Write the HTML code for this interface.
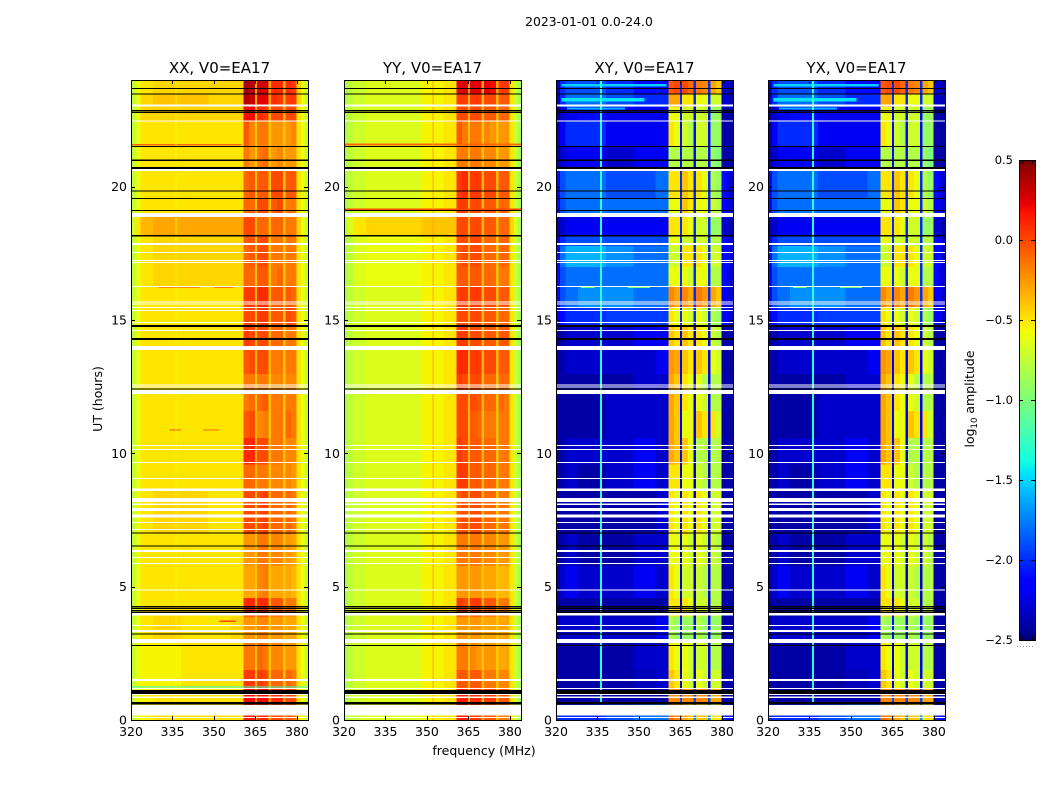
<!DOCTYPE html>
<html lang="en">
<head>
<meta charset="utf-8">
<title>2023-01-01 0.0-24.0</title>
<style>
html,body{margin:0;padding:0;background:#fff;}
svg{display:block;font-family:"DejaVu Sans","Liberation Sans",sans-serif;fill:#000;}
</style>
</head>
<body>
<svg id="figure" xmlns="http://www.w3.org/2000/svg" width="1050" height="800" viewBox="0 0 1050 800">
<rect x="0" y="0" width="1050" height="800" fill="#fff"/>
<text x="589" y="26" font-size="12.4" text-anchor="middle">2023-01-01 0.0-24.0</text>
<text x="102" y="399" font-size="12.5" text-anchor="middle" transform="rotate(-90 102 399)">UT (hours)</text>
<text x="484" y="755" font-size="12.5" text-anchor="middle">frequency (MHz)</text>
<text x="974" y="399" font-size="12.5" text-anchor="middle" transform="rotate(-90 974 399)">log<tspan font-size="8.5" dy="3">10</tspan><tspan dy="-3"> amplitude</tspan></text>
<g id="panels"></g>
<g id="colorbar"></g>
</svg>
<script>
// Data
const panelTitles = ['XX, V0=EA17', 'YY, V0=EA17', 'XY, V0=EA17', 'YX, V0=EA17'];
const freqTicks = [320, 335, 350, 365, 380];
const hourTicks = [0, 5, 10, 15, 20];
const colorTicks = [-2.5, -2.0, -1.5, -1.0, -0.5, 0.0, 0.5];
const colorEdgeTicks = [0, 0.2, 0.4, 0.6, 0.8, 1];
const timeEdges = [0,.6,1.2,1.9,2.9,3.9,4.6,5.8,7,8.6,9.6,10.6,11.6,12.4,13,13.9,14.8,15.5,16.3,17,17.8,18.2,18.9,19.6,20.6,21.5,22.5,23,23.5,24];
const freqEdges = [320,321.5,323.5,328,338,348,356,360.6,362.7,364.8,365.6,367.7,369.7,370.6,372.8,375,375.8,377.8,379.8,381.5,383,384];
// log10 amplitude in tenths; rows run bottom (0 h) to top (24 h)
const xxCells = [
[-7.5,-6,-5.5,-5,-5,-5,-5,1.5,1.5,-2.5,1,1,-3,0,0,-3,-.5,-1,-5,-6,-7.5],
[-7.5,-6,-5.5,-5,-5,-5,-5,2,2,-2.5,2,2,-2.5,1,1,-3,0,0,-5,-6,-7.5],
[-7.5,-6,-5.5,-5.5,-5,-5,-5,.5,.5,-3.5,.5,0,-3.5,-1,-1,-4,-1,-1.5,-5,-6,-7.5],
[-7.5,-6,-5.5,-5.5,-5,-5,-5,-1.5,-1.5,-4,-1,-1.5,-4,-2,-2,-4,-2.5,-2.5,-5,-6,-7.5],
[-7.5,-6,-5,-4.5,-5,-5,-4.5,-2.5,-2.5,-4,-2,-2,-4,-2.5,-2.5,-4,-3,-3,-5,-6,-7.5],
[-7.5,-6,-5,-5,-5,-5,-5,1,1,-3,1,1,-3,-.5,-.5,-3.5,-1.5,-1.5,-5,-6,-7.5],
[-7.5,-6,-5,-5,-5,-5,-5,-3,-3,-4,-2,-1.5,-4,-3,-3,-4,-3,-3.5,-5,-6,-7.5],
[-7.5,-6,-5,-5,-5,-5,-5,-2.5,-2.5,-4,-1.5,-1.5,-4,-2,-2,-4,-2.5,-3,-5,-6,-7.5],
[-7.5,-6,-5,-4.5,-4.5,-5,-5,0,0,-3.5,0,.5,-3.5,-1,-1,-4,-1,-1.5,-5,-6,-7.5],
[-7.5,-6,-5,-5,-5,-5,-5,-1,-1,-3.5,-1.5,-1.5,-4,-2,-2,-4,-2,-2.5,-5,-6,-7.5],
[-7.5,-6,-5,-5,-5,-5,-5,1,1,-3,0,0,-3.5,-1.5,-1.5,-4,-2,-2,-5,-6,-7.5],
[-7.5,-6,-5,-5,-5,-5,-5,-.5,0,-3.5,-2,-1.5,-4,-1.5,-1.5,-4,-1,-1.5,-5,-6,-7.5],
[-7.5,-6,-5,-5,-5,-5,-5,-1.5,-1,-4,-1,-.5,-4,-1.5,-1.5,-4,-1.5,-1.5,-5,-6,-7.5],
[-7.5,-6,-5,-5,-5,-5,-5,-1.5,-1.5,-4,-1.5,-1.5,-4,-2,-2,-4,-2,-2,-5,-6,-7.5],
[-7.5,-6,-5,-5,-5,-5,-5,-.5,0,-3.5,0,0,-3.5,-1.5,-1.5,-4,-1.5,-1.5,-5,-6,-7.5],
[-7.5,-6,-5,-5,-5,-5,-5,.5,0,-3.5,0,0,-3.5,-1,-1,-4,-1.5,-1.5,-5,-6,-7.5],
[-7.5,-6,-5,-5,-5,-5,-5,0,0,-3.5,.5,.5,-3.5,-.5,-.5,-4,0,-.5,-5,-6,-7.5],
[-7.5,-6,-5,-5,-5,-5,-5,.5,.5,-3.5,1,1,-3.5,-.5,-.5,-4,-.5,-1,-5,-6,-7.5],
[-7.5,-6,-5,-4.5,-4.5,-4.5,-4.5,-1,-1,-4,-.5,-.5,-4,-1.5,-1,-4,-1.5,-1.5,-5,-6,-7.5],
[-7.5,-6,-5,-4.5,-4.5,-4.5,-4.5,-1,-.5,-4,0,0,-4,-1.5,-1.5,-4,-1.5,-1.5,-5,-6,-7.5],
[-7.5,-6,-5,-4.5,-4.5,-4.5,-4.5,-.5,-.5,-4,0,0,-4,-1.5,-1.5,-4,-1.5,-1.5,-5,-6,-7.5],
[-7,-5,-3.5,-3,-3,-3,-3,0,0,-3.5,-1,-1,-3.5,-1,-1,-3.5,-1.5,-1.5,-4.5,-6,-7.5],
[-7.5,-6,-5,-5,-5,-5,-5,-1,-1,-4,0,0,-4,-.5,0,-4,-1.5,-1.5,-5,-6,-7.5],
[-7.5,-6,-5,-5,-5,-5,-5,-1,-.5,-4,-.5,-.5,-4,0,0,-4,-.5,-.5,-5,-6,-7.5],
[-7.5,-6,-5,-5,-5,-5,-5,-1.5,-2.5,-4,-1.5,-1,-4,-2.5,-2,-4,-2.5,-2.5,-5,-6,-7.5],
[-7.5,-6,-5,-5,-5,-5,-5,-.5,-2,-4,-1.5,-1.5,-4,-2.5,-2.5,-4,-2.5,-2,-5,-6,-7.5],
[-7.5,-6,-4.5,-4.5,-4.5,-4.5,-4.5,2,2,-3.5,1,.5,-3.5,0,0,-3.5,0,0,-5,-6,-7.5],
[-7.5,-6,-4.5,-4,-4,-4.5,-4.5,3.5,3,-3,2.5,2.5,-3,1,.5,-3.5,.5,.5,-4.5,-6,-7.5],
[-7.5,-6,-5,-4.5,-4.5,-4.5,-4.5,4,3.5,-3,3,3,-3,1,1,-3.5,1,.5,-4.5,-6,-7.5]
];
const yyCells = [
[-8.5,-7.5,-7,-6.5,-6.5,-5.5,-5,1.5,1.5,-3.5,.5,.5,-3.5,-.5,-.5,-3.5,-1.5,-1.5,-5,-7,-8.5],
[-8.5,-7.5,-7,-6.5,-6.5,-5.5,-5,1.5,1.5,-3.5,1,1,-3.5,.5,.5,-3.5,-.5,-.5,-5,-7,-8.5],
[-8.5,-7.5,-7,-6.5,-6.5,-5.5,-5,-.5,-.5,-3.5,-.5,-.5,-3.5,-1.5,-1.5,-4,-2,-2,-5,-7,-8.5],
[-8.5,-7.5,-7,-6.5,-6.5,-5.5,-5,-1.5,-1.5,-4,-2,-2.5,-4,-2.5,-2.5,-4,-3,-3,-5,-7,-8.5],
[-8.5,-7.5,-7,-6.5,-6.5,-5.5,-5,-2.5,-2.5,-4,-2.5,-2.5,-4,-3,-3,-4,-3,-3,-5,-7,-8.5],
[-8.5,-7.5,-7,-6.5,-6.5,-5.5,-5,.5,0,-3.5,.5,.5,-3.5,-.5,-.5,-3.5,-1.5,-1.5,-5,-7,-8.5],
[-8.5,-7.5,-7,-6.5,-6.5,-5.5,-5,-2.5,-2.5,-4,-2.5,-2.5,-4,-3,-3,-4,-3.5,-3.5,-5,-7,-8.5],
[-8.5,-7.5,-7,-6.5,-6.5,-5.5,-5,-1.5,-1.5,-4,-1.5,-1.5,-4,-2,-2,-4,-2.5,-2.5,-5,-7,-8.5],
[-8.5,-7.5,-7,-6.5,-6.5,-5.5,-5,-.5,0,-3.5,0,0,-3.5,-1,-1,-4,-1.5,-1.5,-5,-7,-8.5],
[-8.5,-7.5,-7,-6.5,-6.5,-5.5,-5,.5,.5,-3.5,-.5,-.5,-3.5,-1,-1,-4,-1.5,-1.5,-5,-7,-8.5],
[-8.5,-7.5,-7,-6.5,-6.5,-5.5,-5,.5,0,-3.5,-.5,-.5,-3.5,-1,-1,-4,-1.5,-1.5,-5,-7,-8.5],
[-8.5,-7.5,-7,-6.5,-6.5,-5.5,-5,0,0,-3.5,-.5,-1,-3.5,-1.5,-1.5,-4,-1.5,-1.5,-5,-7,-8.5],
[-8.5,-7.5,-7,-6.5,-6.5,-5.5,-5,0,0,-3.5,0,-.5,-3.5,-1,-1,-4,-1,-1.5,-5,-7,-8.5],
[-8.5,-7.5,-7,-6.5,-6.5,-5.5,-5,.5,0,-3.5,0,0,-3.5,-1,-1,-4,-1,-1,-5,-7,-8.5],
[-8.5,-7.5,-7,-6.5,-6.5,-5.5,-5,1,1,-3.5,.5,.5,-3.5,0,0,-3.5,-.5,-.5,-5,-7,-8.5],
[-8.5,-7.5,-7,-6.5,-6.5,-5.5,-5,.5,.5,-3.5,0,0,-3.5,-.5,-.5,-3.5,-.5,-.5,-5,-7,-8.5],
[-8.5,-7.5,-7,-6.5,-6.5,-5.5,-5,0,0,-3.5,0,0,-3.5,-.5,-.5,-3.5,-1,-1,-5,-7,-8.5],
[-8.5,-7.5,-7,-6.5,-6.5,-5.5,-5,.5,.5,-3.5,.5,.5,-3.5,0,0,-3.5,-.5,-.5,-5,-7,-8.5],
[-8.5,-7.5,-6.5,-6,-6,-5.5,-5,-.5,-.5,-3.5,-.5,-.5,-3.5,-1,-1,-4,-1.5,-1.5,-5,-7,-8.5],
[-8.5,-7.5,-6.5,-6,-6,-5.5,-5,-.5,0,-3.5,0,0,-3.5,-1,-1,-4,-1,-1,-5,-7,-8.5],
[-8.5,-7.5,-6.5,-6,-6,-5.5,-5,0,0,-3.5,0,0,-3.5,-1,-1,-4,-1,-1,-5,-7,-8.5],
[-8,-6.5,-5,-4.5,-4.5,-4,-4,0,0,-3.5,0,0,-3.5,-.5,-.5,-3.5,-1,-1,-4.5,-6.5,-8.5],
[-8.5,-7.5,-7,-6.5,-6.5,-5.5,-5,.5,.5,-3.5,0,0,-3.5,-.5,-.5,-3.5,-1,-1,-5,-7,-8.5],
[-8.5,-7.5,-7,-6.5,-6.5,-5.5,-5,.5,1,-3.5,.5,.5,-3.5,0,0,-3.5,-.5,-.5,-5,-7,-8.5],
[-8.5,-7.5,-7,-6.5,-6.5,-5.5,-5,-1.5,-1.5,-4,-1.5,-1.5,-4,-2,-2,-4,-2.5,-2.5,-5,-7,-8.5],
[-8.5,-7.5,-7,-6.5,-6.5,-5.5,-5,-.5,-1.5,-4,-1.5,-1.5,-4,-2,-2.5,-4,-2.5,-2.5,-5,-7,-8.5],
[-8.5,-7.5,-7,-6.5,-6.5,-5.5,-5,0,0,-3.5,0,0,-3.5,-.5,-.5,-3.5,-1,-1,-5,-7,-8.5],
[-8.5,-7.5,-7,-6.5,-6.5,-5.5,-5,.5,.5,-3.5,.5,.5,-3.5,0,0,-3.5,-.5,-.5,-5,-7,-8.5],
[-8.5,-7.5,-7,-6.5,-6.5,-5.5,-5,2.5,2.5,-3,2.5,2.5,-3,2.5,2,-3,.5,.5,-5,-7,-8.5]
];
const xyCells = [
[-20,-20,-20,-20,-19,-18,-18,-1,-2,-17,-3,-4,-17,-4,-4,-17,-5,-5,-20,-21,-22],
[-24,-24,-24,-24,-24,-24,-24,-2,-2,-19,-2,-2,-19,-2,-2,-19,-3,-3,-24,-24,-24],
[-24,-24,-24,-24,-24,-23.5,-23,-4,-5,-22,-6,-7,-22,-6,-7,-22,-7,-7,-24,-24,-24],
[-24,-24,-24,-24,-24,-23,-23,-5,-6,-23,-6,-7,-22,-7,-7,-22,-8,-8,-24,-24,-24],
[-24,-23,-23,-23,-23,-23,-22,-8,-9,-21,-9,-9,-21,-8,-9,-21,-9,-9,-24,-24,-24],
[-24,-24,-24,-24,-24,-24,-24,-5,-5,-23,-5,-6,-23,-7,-7,-23,-8,-8,-24,-24,-24],
[-24,-23,-22,-23,-23,-22,-23,-5,-6,-23,-7,-7,-23,-7,-8,-23,-8,-8,-24,-24,-24],
[-24,-24,-23,-24,-24,-23,-23,-6,-6,-23,-6,-7,-23,-6,-7,-23,-7,-8,-24,-24,-24],
[-24,-24,-24,-24,-24,-24,-23,-5,-6,-23,-5,-6,-23,-5,-6,-23,-7,-7,-24,-24,-24],
[-24,-24,-23,-24,-23,-22,-23,-5,-5,-23,-6,-6,-23,-7,-8,-23,-8,-8,-24,-24,-24],
[-24,-24,-23,-23,-23,-22,-23,-3,-4,-22,-4,-6,-22,-8,-8,-22,-8,-8,-24,-24,-24],
[-24,-24,-24,-24,-23,-23,-23,-3,-4,-22,-6,-6,-22,-4,-5,-22,-5,-7,-24,-24,-24],
[-24,-24,-24,-24,-23,-23,-23,-3,-4,-22,-5,-6,-22,-6,-7,-22,-8,-8,-24,-24,-24],
[-24,-24,-24,-24,-24,-23,-23,-3,-4,-22,-5,-6,-22,-6,-8,-22,-8,-8,-24,-24,-24],
[-24,-24,-23,-23,-23,-23,-22,-2.5,-3,-22,-4,-5,-22,-4,-5,-22,-6,-7,-24,-24,-24],
[-24,-24,-23,-23,-23,-22,-22,-4,-5,-22,-4,-5,-22,-5,-6,-22,-7,-8,-24,-24,-24],
[-22,-21,-20,-20,-19.5,-19.5,-19.5,-5,-6,-20,-6,-7,-20,-6,-7,-20,-8,-9,-22,-22,-23],
[-21,-19,-18,-17,-17,-18,-18,-2,-3,-20,-2,-3,-20,-1.5,-2.5,-20,-3,-4,-22,-22,-23],
[-21,-19,-18,-18,-18,-18,-18,-6,-6,-20,-6,-7,-20,-6,-6,-20,-8,-8,-21,-22,-23],
[-21,-18,-16,-16,-17,-18,-18,-7,-7,-20,-5,-5,-20,-5,-6,-20,-7,-7,-21,-21,-23],
[-22,-20,-19,-19,-19,-19,-19,-6,-6,-20,-7,-7,-20,-7,-7,-20,-8,-8,-21,-22,-23],
[-24,-23,-22,-22,-22,-22,-22,-5,-5,-20,-5,-6,-20,-7,-7,-20,-9,-9,-23,-23,-24],
[-21,-19,-18,-18,-18,-18,-18,-6,-6,-20,-4,-5,-20,-6,-6,-20,-7,-8,-22,-22,-23],
[-21,-19,-18,-18,-19,-19,-18,-5,-5,-20,-4,-5,-20,-5,-6,-20,-8,-9,-21,-22,-23],
[-24,-23,-22,-22,-23,-22,-22,-8,-8,-21,-8,-8,-21,-8,-8,-21,-9,-10,-24,-24,-24],
[-24,-22,-20,-20,-22,-22,-22,-5,-6,-21,-7,-8,-21,-7,-7,-21,-9,-9,-24,-24,-24],
[-24,-23,-22,-21,-22,-22,-22,-6,-6,-21,-7,-7,-21,-7,-7,-21,-9,-9,-24,-24,-24],
[-23,-20,-18,-18,-19,-20,-20,-3,-3,-20,-5,-5,-20,-6,-6,-20,-7,-7,-23,-23,-24],
[-23,-20,-19,-19,-20,-21,-21,-.5,0,-20,0,-1,-20,-1.5,-2,-20,-3,-4,-23,-23,-24]
];
const yxCells = xyCells;
// [panel, start hour, end hour, start MHz, end MHz, value in tenths]
const streaks = [
[0,21.55,21.6,320,360,-1],[0,16.2,16.25,330,345,-2],[0,16.2,16.25,350,357,-1.5],
[0,10.85,10.9,334,338,0],[0,10.85,10.9,346,352,-1],[0,3.68,3.73,352,358,0],
[0,1.22,1.26,320,384,-13],[1,21.55,21.62,320,384,-1],[1,19.12,19.18,320,384,0],
[2,23.75,23.85,322,360,-15],[3,23.75,23.85,322,360,-15],
[2,23.2,23.32,322,352,-14.5],[3,23.2,23.32,322,352,-14.5],
[2,22.9,22.96,324,345,-16],[3,22.9,22.96,324,345,-16],
[2,16.2,16.25,329,334,-10],[2,16.2,16.25,346,354,-10],[3,16.2,16.25,329,334,-10],[3,16.2,16.25,346,354,-10],
[0,0,24,336,336.35,-5.5],[1,0,24,352,352.4,-3],
[2,.6,24,335.9,336.6,-13],[3,.6,24,335.9,336.6,-13]
];
// flagged time ranges, hours
const whiteBands = [
[.08,.11],[.16,.57],[.83,.88],[.94,.98],[1.16,1.2],[1.46,1.54],[2.88,3.04],[3.3,3.38],[3.53,3.56],[3.91,4.01],[4.86,4.89],[5.85,5.89],[6.08,6.11],[6.3,6.38],[7.13,7.16],[7.39,7.43],[7.59,7.71],[7.84,7.95],[8.06,8.12],[8.18,8.33],[8.59,8.68],[9.04,9.08],[9.64,9.68],[10.13,10.16],[10.28,10.31],[12.23,12.38],[12.48,12.51],[12.55,12.59],[13.88,14.03],[14.59,14.63],[14.89,14.93],[15.34,15.38],[15.45,15.49],[15.58,15.62],[15.67,15.7],[16.24,16.28],[17.13,17.17],[17.21,17.25],[17.51,17.55],[17.82,17.88],[18.86,19.02],[20.58,20.66],[22.44,22.48],[23.01,23.08]
];
const blackBands = [
[.58,.68],[.98,1.13],[2.78,2.82],[3.21,3.25],[4.02,4.06],[4.09,4.13],[4.17,4.21],[4.24,4.28],[6.51,6.55],[7,7.04],[12.39,12.43],[14.25,14.33],[14.74,14.81],[18.14,18.19],[19.09,19.13],[19.54,19.58],[19.81,19.85],[20.67,20.74],[20.97,21.01],[21.49,21.53],[22.77,22.81],[22.83,22.87],[23.46,23.5],[23.66,23.7]
];

// Layout
const svgNS = 'http://www.w3.org/2000/svg';
const panelLefts = [131, 344, 556, 768];
const panelWidth = 177;
const plotTop = 80;
const plotBottom = 720;
const panelMatrices = [xxCells, yyCells, xyCells, yxCells];
const freqMin = 320, freqMax = 384, hourMax = 24;
const colorMin = -2.5, colorMax = 0.5;

function xScale(left, f) { return left + (f - freqMin) / (freqMax - freqMin) * panelWidth; }
function yScale(h) { return plotBottom - h / hourMax * (plotBottom - plotTop); }
function lerp(stops, t) {
  for (let i = 1; i < stops.length; i++) {
    if (t <= stops[i][0]) {
      const a = stops[i - 1], b = stops[i];
      return a[1] + (b[1] - a[1]) * (t - a[0]) / (b[0] - a[0]);
    }
  }
  return stops[stops.length - 1][1];
}
const jetR = [[0,0],[.35,0],[.66,1],[.89,1],[1,.5]];
const jetG = [[0,0],[.125,0],[.375,1],[.64,1],[.91,0],[1,0]];
const jetB = [[0,.5],[.11,1],[.34,1],[.65,0],[1,0]];
function jet(v) {
  const t = Math.max(0, Math.min(1, (v - colorMin) / (colorMax - colorMin)));
  return 'rgb(' + Math.round(lerp(jetR, t) * 255) + ',' + Math.round(lerp(jetG, t) * 255) + ',' + Math.round(lerp(jetB, t) * 255) + ')';
}
function make(tag, attrs, parent) {
  const el = document.createElementNS(svgNS, tag);
  for (const k in attrs) el.setAttribute(k, attrs[k]);
  parent.appendChild(el);
  return el;
}
const panelsRoot = document.getElementById('panels');

panelTitles.forEach(function (title, p) {
  const left = panelLefts[p];
  const cells = panelMatrices[p];
  const g = make('g', {}, panelsRoot);
  
  
  const heat = make('g', { 'shape-rendering': 'crispEdges' }, g);
  
  
  cells.forEach(function (row, r) {
    row.forEach(function (v, c) {
      const x0 = xScale(left, freqEdges[c]), x1 = xScale(left, freqEdges[c + 1]);
      const y0 = yScale(timeEdges[r + 1]), y1 = yScale(timeEdges[r]);
      const cell = make('rect', { x: x0, y: y0, width: x1 - x0 + .5, height: y1 - y0 + .5, fill: jet(v / 10) }, heat);
      
      
    });
  });
  streaks.filter(function (s) { return s[0] === p; }).forEach(function (s) {
    const st = make('rect', { x: xScale(left, s[3]), y: yScale(s[2]), width: Math.max(1, xScale(left, s[4]) - xScale(left, s[3])), height: Math.max(1, yScale(s[1]) - yScale(s[2])), fill: jet(s[5] / 10) }, heat);
    
    
  });
  whiteBands.forEach(function (b) {
    const w = make('rect', { x: left, y: yScale(b[1]), width: panelWidth, height: Math.max(1, yScale(b[0]) - yScale(b[1])), fill: '#fff' }, heat);
    
    
  });
  blackBands.forEach(function (b) {
    const k = make('rect', { x: left, y: yScale(b[1]), width: panelWidth, height: Math.max(1, yScale(b[0]) - yScale(b[1])), fill: '#000' }, heat);
    
    
  });
  const frame = make('rect', { x: left + .5, y: plotTop + .5, width: panelWidth, height: plotBottom - plotTop, fill: 'none', stroke: '#000', 'stroke-width': 1 }, g);
  
  
  freqTicks.forEach(function (f) {
    const x = Math.round(xScale(left, f)) + .5;
    const bt = make('line', { x1: x, x2: x, y1: plotBottom, y2: plotBottom - 4, stroke: '#000', 'stroke-width': 1 }, g);
    
    
    const tt = make('line', { x1: x, x2: x, y1: plotTop, y2: plotTop + 4, stroke: '#000', 'stroke-width': 1 }, g);
    
    
    const lab = make('text', { x: xScale(left, f), y: 736, 'font-size': 12.5, 'text-anchor': 'middle' }, g);
    
    
    lab.textContent = String(f);
  });
  hourTicks.forEach(function (h) {
    const y = Math.round(yScale(h)) + .5;
    const lt = make('line', { x1: left, x2: left + 4, y1: y, y2: y, stroke: '#000', 'stroke-width': 1 }, g);
    
    
    const rt = make('line', { x1: left + panelWidth, x2: left + panelWidth - 4, y1: y, y2: y, stroke: '#000', 'stroke-width': 1 }, g);
    
    
    const lab = make('text', { x: left - 4, y: yScale(h) + 4.5, 'font-size': 12.5, 'text-anchor': 'end' }, g);
    
    
    lab.textContent = String(h);
  });
  const t = make('text', { x: left + panelWidth / 2, y: 73, 'font-size': 15, 'text-anchor': 'middle' }, g);
  
  
  t.textContent = title;
});

// Colorbar
const cbRoot = document.getElementById('colorbar');
const cbLeft = 1019, cbRight = 1035, cbTop = 160, cbBottom = 640;
function cbY(v) { return cbBottom - (v - colorMin) / (colorMax - colorMin) * (cbBottom - cbTop); }
const cbSteps = 240;
for (let i = 0; i < cbSteps; i++) {
  const v0 = colorMin + (colorMax - colorMin) * i / cbSteps;
  const v1 = colorMin + (colorMax - colorMin) * (i + 1) / cbSteps;
  const seg = make('rect', { x: cbLeft, y: cbY(v1), width: cbRight - cbLeft, height: cbY(v0) - cbY(v1) + .5, fill: jet((v0 + v1) / 2), 'shape-rendering': 'crispEdges' }, cbRoot);
  
  
}
const cbFrame = make('rect', { x: cbLeft + .5, y: cbTop + .5, width: cbRight - cbLeft, height: cbBottom - cbTop, fill: 'none', stroke: '#000', 'stroke-width': 1 }, cbRoot);


colorTicks.forEach(function (v) {
  const y = Math.round(cbY(v)) + .5;
  const l = make('line', { x1: cbLeft, x2: cbLeft + 4, y1: y, y2: y, stroke: '#000', 'stroke-width': 1 }, cbRoot);
  
  
  const r = make('line', { x1: cbRight, x2: cbRight - 4, y1: y, y2: y, stroke: '#000', 'stroke-width': 1 }, cbRoot);
  
  
  const lab = make('text', { x: 1013, y: cbY(v) + 4, 'font-size': 11.5, 'text-anchor': 'end' }, cbRoot);
  
  
  lab.textContent = v.toFixed(1).replace('-', '\u2212');
});
colorEdgeTicks.forEach(function (f) {
  const x = Math.round(cbLeft + f * (cbRight - cbLeft)) + .5;
  const a = make('line', { x1: x, x2: x, y1: cbTop, y2: cbTop + 4, stroke: '#000', 'stroke-width': 1 }, cbRoot);
  
  
  const b = make('line', { x1: x, x2: x, y1: cbBottom, y2: cbBottom - 4, stroke: '#000', 'stroke-width': 1 }, cbRoot);
  
  
});
const cbDots = make('line', { x1: 1017, x2: 1035, y1: 646.5, y2: 646.5, stroke: '#999', 'stroke-width': 1, 'stroke-dasharray': '1 2' }, cbRoot);


</script>
</body>
</html>
